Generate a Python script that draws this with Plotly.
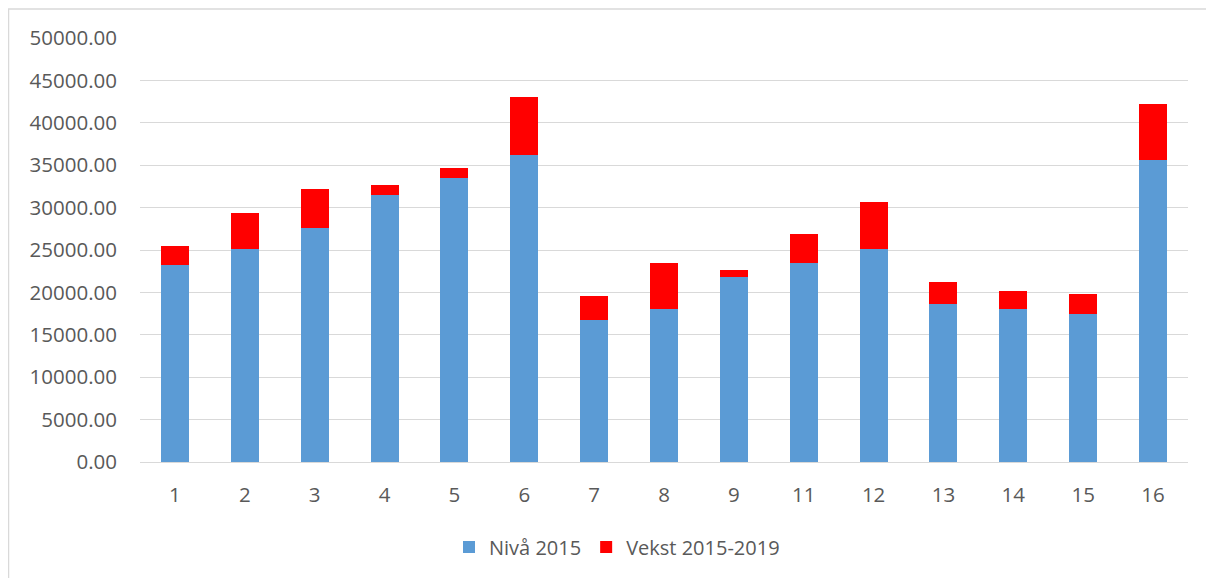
import plotly.graph_objects as go

categories = ["1", "2", "3", "4", "5", "6", "7", "8", "9", "11", "12", "13", "14", "15", "16"]
niva_2015 = [23240, 25060, 27580, 31510, 33490, 36200, 16780, 18000, 21780, 23440, 25060, 18590, 18080, 17490, 35610]
totals_2019 = [25450, 29350, 32190, 32660, 34630, 43100, 19570, 23440, 22650, 26830, 30610, 21230, 20130, 19770, 42200]
vekst = [t - n for t, n in zip(totals_2019, niva_2015)]
y_ticks = [0, 5000, 10000, 15000, 20000, 25000, 30000, 35000, 40000, 45000, 50000]

fig = go.Figure()
fig.add_trace(go.Bar(x=categories, y=niva_2015, name="Nivå 2015",
                     marker=dict(color="#5b9bd5", line=dict(width=0))))
fig.add_trace(go.Bar(x=categories, y=vekst, name="Vekst 2015-2019",
                     marker=dict(color="#ff0000", line=dict(width=0))))

font_color = "#595959"
W, H = 1206, 570
L, R, T, B = 132, 26, 30, 116
pw, ph = W - L - R, H - T - B


def px(x):
    return (x - L) / pw


def py(y):
    return (H - B - y) / ph


fig.update_layout(
    barmode="stack",
    bargap=0.6,
    width=W, height=H,
    margin=dict(l=L, r=R, t=T, b=B),
    paper_bgcolor="white", plot_bgcolor="white",
    font=dict(family="Open Sans", size=20, color=font_color),
    xaxis=dict(type="category", showgrid=False, showline=True, linecolor="#d9d9d9",
               linewidth=1, ticks="", ticklabelstandoff=14,
               tickfont=dict(size=20.5, color=font_color)),
    yaxis=dict(range=[0, 50000], tickvals=y_ticks, tickformat=".2f", showgrid=True,
               gridcolor="#d9d9d9", gridwidth=1, zeroline=False, showline=False,
               ticks="", ticklabelstandoff=22, tickfont=dict(size=20.5, color=font_color)),
    legend=dict(orientation="h", x=px(609), xanchor="center", y=py(539), yanchor="middle",
                font=dict(size=20, color=font_color), traceorder="normal"),
    showlegend=True,
    shapes=[
        dict(type="line", xref="paper", yref="paper", x0=px(0.5), x1=px(0.5),
             y0=py(H), y1=py(1), line=dict(color="#d9d9d9", width=1.5)),
        dict(type="line", xref="paper", yref="paper", x0=px(0), x1=px(W),
             y0=py(1), y1=py(1), line=dict(color="#d9d9d9", width=1.5)),
    ],
)

fig.write_html("out.html")
